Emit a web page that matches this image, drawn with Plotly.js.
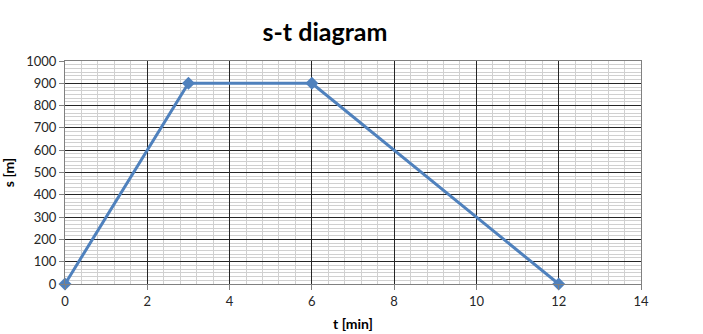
<!DOCTYPE html>
<html>
<head>
<meta charset="utf-8">
<script src="https://cdn.plot.ly/plotly-3.0.1.min.js"></script>
<style>html,body{margin:0;padding:0;background:#fff;}#chart{width:703px;height:334px;}</style>
</head>
<body>
<div id="chart"></div>
<script>
const timeMin = [0, 3, 6, 12];
const distanceM = [0, 900, 900, 0];
const xTicks = [0, 2, 4, 6, 8, 10, 12, 14];
const yTicks = [0, 100, 200, 300, 400, 500, 600, 700, 800, 900, 1000];

const trace = {
  x: timeMin,
  y: distanceM,
  type: 'scatter',
  mode: 'lines+markers',
  line: {color: '#4F81BD', width: 3},
  marker: {symbol: 'diamond', size: 10, color: '#4F81BD'},
  cliponaxis: false,
  hoverinfo: 'skip'
};

const font = "Lato, 'Open Sans', sans-serif";
const layout = {
  width: 703, height: 334,
  margin: {l: 65, r: 62, t: 61, b: 50},
  paper_bgcolor: '#fff', plot_bgcolor: '#fff',
  showlegend: false,
  title: {text: '<b>s-t diagram</b>', font: {family: font, size: 25, color: '#000'},
          xref: 'paper', x: (325 - 65) / 576, xanchor: 'center',
          yref: 'container', y: 1 - 32 / 334, yanchor: 'middle'},
  xaxis: {
    range: [0, 14], tickvals: xTicks, ticktext: xTicks.map(String),
    showgrid: true, gridcolor: '#262626', gridwidth: 1,
    minor: {dtick: 0.4, tick0: 0, showgrid: true, gridcolor: '#d0d0d0', gridwidth: 1},
    showline: true, linecolor: '#808080', linewidth: 1, mirror: true,
    ticks: 'outside', ticklen: 5, tickcolor: '#808080',
    zeroline: false,
    tickfont: {family: font, size: 13, color: '#262626'},
    title: {text: '<b>t [min]</b>', font: {family: font, size: 14, color: '#000'}, standoff: 11}
  },
  yaxis: {
    range: [0, 1000], tickvals: yTicks, ticktext: yTicks.map(String),
    showgrid: true, gridcolor: '#262626', gridwidth: 1,
    minor: {dtick: 100/6, tick0: 0, showgrid: true, gridcolor: '#d0d0d0', gridwidth: 1},
    showline: true, linecolor: '#808080', linewidth: 1, mirror: true,
    ticks: 'outside', ticklen: 5, tickcolor: '#808080',
    zeroline: false,
    tickfont: {family: font, size: 13, color: '#262626'},
    title: {text: '<b>s [m]</b>', font: {family: font, size: 14, color: '#000'}, standoff: 8}
  }
};

Plotly.newPlot('chart', [trace], layout, {displayModeBar: false, staticPlot: true});
</script>
</body>
</html>
